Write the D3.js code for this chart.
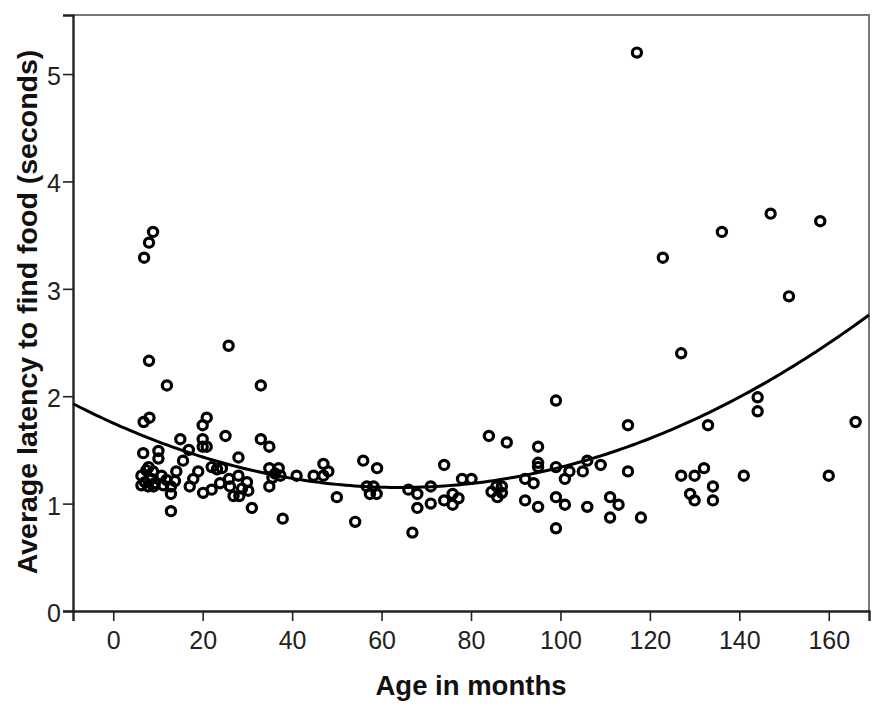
<!DOCTYPE html>
<html>
<head>
<meta charset="utf-8">
<script src="https://cdn.jsdelivr.net/npm/d3@7"></script>
<style>
    body { margin: 0; background: #fff; }
    svg { display: block; }
</style>
</head>
<body>
<svg id="chart"></svg>
<script>
const width = 892
const height = 716
const margin = {top: 15, right: 23, bottom: 105, left: 73}

// age in months
const ages = [
    6.9, 8.0, 8.9, 8.0, 6.8, 8.1, 6.7, 10.1, 10.1, 7.9,
    6.3, 7.4, 8.9, 8.5, 7.1, 9.3, 10.8, 7.8, 6.3, 9.0,
    11.2, 12.0, 11.9, 12.9, 12.9, 12.9, 14.1, 13.8, 15.0, 15.6,
    16.9, 17.1, 17.9, 19.0, 20.0, 20.9, 20.0, 20.0, 20.9, 20.1,
    22.0, 23.2, 24.3, 22.0, 23.9, 25.1, 25.8, 25.9, 26.1, 26.9,
    28.2, 28.0, 28.0, 28.8, 29.9, 30.2, 31.0, 33.0, 33.0, 34.9,
    34.9, 37.0, 36.2, 35.6, 37.4, 34.9, 37.9, 41.0, 44.8, 47.0,
    48.1, 47.0, 50.0, 54.1, 55.9, 59.0, 56.7, 58.2, 57.4, 58.9,
    66.0, 68.0, 71.0, 68.0, 71.0, 66.9, 74.0, 74.0, 75.9, 75.9,
    77.2, 78.0, 80.1, 84.0, 88.0, 84.6, 85.7, 86.9, 85.9, 86.9,
    92.1, 94.0, 92.1, 95.0, 95.0, 95.0, 95.0, 99.0, 99.0, 101.0,
    102.0, 105.0, 106.0, 109.0, 99.0, 101.0, 99.0, 106.0, 111.1, 113.0,
    111.1, 118.0, 115.1, 115.1, 117.1, 122.9, 127.0, 136.1, 147.0, 158.1,
    151.1, 133.0, 144.1, 144.1, 166.0, 127.0, 130.0, 132.1, 134.1, 129.0,
    130.0, 134.1, 141.0, 160.0
]

// average latency to find food (seconds), same order
const latencies = [
    3.29, 3.43, 3.53, 2.33, 1.76, 1.80, 1.47, 1.49, 1.42, 1.34,
    1.26, 1.31, 1.30, 1.23, 1.20, 1.19, 1.26, 1.16, 1.17, 1.16,
    1.17, 2.10, 1.22, 1.16, 1.09, 0.93, 1.30, 1.21, 1.60, 1.40,
    1.50, 1.16, 1.23, 1.30, 1.73, 1.80, 1.60, 1.53, 1.53, 1.10,
    1.34, 1.32, 1.33, 1.13, 1.19, 1.63, 2.47, 1.23, 1.16, 1.07,
    1.07, 1.43, 1.26, 1.14, 1.20, 1.12, 0.96, 2.10, 1.60, 1.53,
    1.33, 1.33, 1.28, 1.24, 1.26, 1.16, 0.86, 1.26, 1.26, 1.37,
    1.30, 1.26, 1.06, 0.83, 1.40, 1.33, 1.16, 1.16, 1.09, 1.09,
    1.13, 1.09, 1.16, 0.96, 1.00, 0.73, 1.36, 1.03, 1.09, 0.99,
    1.05, 1.23, 1.23, 1.63, 1.57, 1.11, 1.16, 1.16, 1.06, 1.10,
    1.23, 1.19, 1.03, 0.97, 1.53, 1.38, 1.34, 1.96, 1.34, 1.23,
    1.30, 1.30, 1.40, 1.36, 1.06, 0.99, 0.77, 0.97, 1.06, 0.99,
    0.87, 0.87, 1.73, 1.30, 5.20, 3.29, 2.40, 3.53, 3.70, 3.63,
    2.93, 1.73, 1.99, 1.86, 1.76, 1.26, 1.26, 1.33, 1.16, 1.09,
    1.03, 1.03, 1.26, 1.26
]

// quadratic fit: latency = a + b*age + c*age^2
const fitCoefficients = [1.750, -0.018717, 0.000146]

const xTicks = [0, 20, 40, 60, 80, 100, 120, 140, 160]
const yTicks = [0, 1, 2, 3, 4, 5]

const xTitle = "Age in months"
const yTitle = "Average latency to find food (seconds)"

let points = ages.map((age, i) => ({age, latency: latencies[i]}))

let svg = d3.select("svg#chart")
    .attr("width", width)
    .attr("height", height)
    .attr("viewBox", `0,0,${width},${height}`)

let x = d3.scaleLinear()
    .domain([-9, 169])
    .range([margin.left, width - margin.right])

let y = d3.scaleLinear()
    .domain([0, 5.55])
    .range([height - margin.bottom, margin.top])

// frame: top and right edges are lighter
svg.append("path")
    .attr("fill", "none")
    .attr("stroke", "#777")
    .attr("stroke-width", 2)
    .attr("d", `M ${x.range()[0]},${y.range()[1]} H ${x.range()[1]} V ${y.range()[0]}`)

let xAxis = svg.append("g")
    .attr("transform", `translate(0,${y.range()[0]})`)
    .call(d3.axisBottom(x).tickValues(xTicks).tickFormat(d3.format("d"))
        .tickSize(10).tickPadding(10))
let yAxis = svg.append("g")
    .attr("transform", `translate(${x.range()[0]},0)`)
    .call(d3.axisLeft(y).tickValues(yTicks).tickFormat(d3.format("d"))
        .tickSize(10).tickPadding(2))

for (let axis of [xAxis, yAxis]) {
    axis.select(".domain")
        .attr("stroke", "#222")
        .attr("stroke-width", 2.4)
    axis.selectAll(".tick line")
        .attr("stroke", "#222")
        .attr("stroke-width", 1.6)
    axis.selectAll(".tick text")
        .attr("fill", "#222")
        .style("font-family", "'Liberation Sans', Arial, sans-serif")
        .style("font-size", "25px")
}
yAxis.selectAll(".tick text").attr("dy", "0.42em")

// fitted curve
let [a, b, c] = fitCoefficients
let curveAges = d3.range(x.domain()[0], x.domain()[1] + 0.5, 1)
svg.append("path")
    .datum(curveAges)
    .attr("fill", "none")
    .attr("stroke", "#000")
    .attr("stroke-width", 3)
    .attr("d", d3.line()
        .x(d => x(d))
        .y(d => y(a + b * d + c * d * d)))

// markers
svg.append("g")
    .selectAll("circle")
    .data(points)
    .join("circle")
        .attr("cx", d => x(d.age))
        .attr("cy", d => y(d.latency))
        .attr("r", 4.6)
        .attr("fill", "none")
        .attr("stroke", "#000")
        .attr("stroke-width", 3.2)

// axis titles
svg.append("text")
    .attr("x", (x.range()[0] + x.range()[1]) / 2)
    .attr("y", 695)
    .attr("text-anchor", "middle")
    .style("font-family", "'Liberation Sans', Arial, sans-serif")
    .style("font-weight", "bold")
    .style("font-size", "27.5px")
    .attr("fill", "#111")
    .text(xTitle)

svg.append("text")
    .attr("transform", `translate(37,312) rotate(-90)`)
    .attr("text-anchor", "middle")
    .style("font-family", "'Liberation Sans', Arial, sans-serif")
    .style("font-weight", "bold")
    .style("font-size", "28.5px")
    .attr("fill", "#111")
    .text(yTitle)
</script>
</body>
</html>
